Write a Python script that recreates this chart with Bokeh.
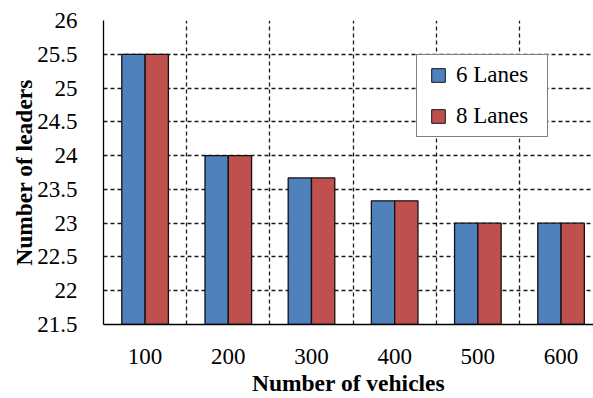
from bokeh.plotting import figure
from bokeh.models import ColumnDataSource, FixedTicker, Legend, LegendItem
from bokeh.transform import dodge
from bokeh.embed import file_html
from bokeh.resources import INLINE

categories = ["100", "200", "300", "400", "500", "600"]
lanes6 = [25.5, 24.0, 23.67, 23.33, 23.0, 23.0]
lanes8 = [25.5, 24.0, 23.67, 23.33, 23.0, 23.0]
y_ticks = [21.5, 22, 22.5, 23, 23.5, 24, 24.5, 25, 25.5, 26]
y_start, y_end = 21.5, 26

idx = list(range(len(categories)))
src = ColumnDataSource(dict(x=idx, six=lanes6, eight=lanes8))

FONT = "Liberation Serif"
BLUE = "#4F81BD"
RED = "#C0504D"

p = figure(width=593, height=398, x_range=(-0.5, len(categories) - 0.61),
           y_range=(y_start, y_end), output_backend="svg", toolbar_location=None,
           min_border_left=103, min_border_right=0, min_border_top=20,
           min_border_bottom=73)
p.outline_line_color = None
p.background_fill_color = "white"
p.border_fill_color = "white"

p.vbar(x=dodge("x", -0.14), top="six", bottom=y_start, width=0.28, source=src,
       fill_color=BLUE, line_color="#111111", line_width=1.3)
p.vbar(x=dodge("x", 0.14), top="eight", bottom=y_start, width=0.28, source=src,
       fill_color=RED, line_color="#111111", line_width=1.3)

# legend proxies (zero-size markers, hidden on the shared bar edge)
l6 = p.scatter(x="x", y="six", source=src, marker="square", size=0,
               fill_color=BLUE, line_color="#111111", line_width=1)
l8 = p.scatter(x="x", y="eight", source=src, marker="square", size=0,
               fill_color=RED, line_color="#111111", line_width=1)

# axes
p.xaxis.ticker = FixedTicker(ticks=idx)
p.xaxis.major_label_overrides = {i: c for i, c in zip(idx, categories)}
p.yaxis.ticker = FixedTicker(ticks=y_ticks)
p.yaxis.major_label_overrides = {t: (f"{t:g}") for t in y_ticks}

for ax in (p.xaxis[0], p.yaxis[0]):
    ax.axis_line_color = "black"
    ax.axis_line_width = 1.3
    ax.major_tick_line_color = None
    ax.minor_tick_line_color = None
    ax.major_label_text_font = FONT
    ax.major_label_text_font_size = "23px"
    ax.major_label_text_color = "black"
    ax.axis_label_text_font = FONT
    ax.axis_label_text_font_size = "23.5px"
    ax.axis_label_text_font_style = "bold"
    ax.axis_label_text_color = "black"

p.xaxis.axis_label = "Number of vehicles"
p.yaxis.axis_label = "Number of leaders"
p.xaxis.major_label_standoff = 18
p.xaxis.axis_label_standoff = 3
p.yaxis.major_label_standoff = 20
p.yaxis.axis_label_standoff = -3

# grids
p.ygrid.ticker = FixedTicker(ticks=y_ticks[1:])
p.xgrid.ticker = FixedTicker(ticks=[i + 0.5 for i in idx[:-1]])
for g in (p.xgrid[0], p.ygrid[0]):
    g.grid_line_color = "#1a1a1a"
    g.grid_line_dash = "4 3"
    g.grid_line_width = 1.3

legend = Legend(items=[LegendItem(label="6 Lanes", renderers=[l6]),
                       LegendItem(label="8 Lanes", renderers=[l8])],
                location=(313, 187))
legend.margin = 0
legend.padding = 3
legend.spacing = 7
legend.glyph_width = 36
legend.glyph_height = 34
legend.label_standoff = -3
legend.label_height = 34
legend.label_width = 88
legend.label_text_font = FONT
legend.label_text_font_size = "23px"
legend.label_text_color = "black"
legend.border_line_color = "black"
legend.border_line_width = 1.2
legend.background_fill_color = "white"
legend.background_fill_alpha = 1
p.add_layout(legend)

open("out.html", "w").write(file_html(p, INLINE))
